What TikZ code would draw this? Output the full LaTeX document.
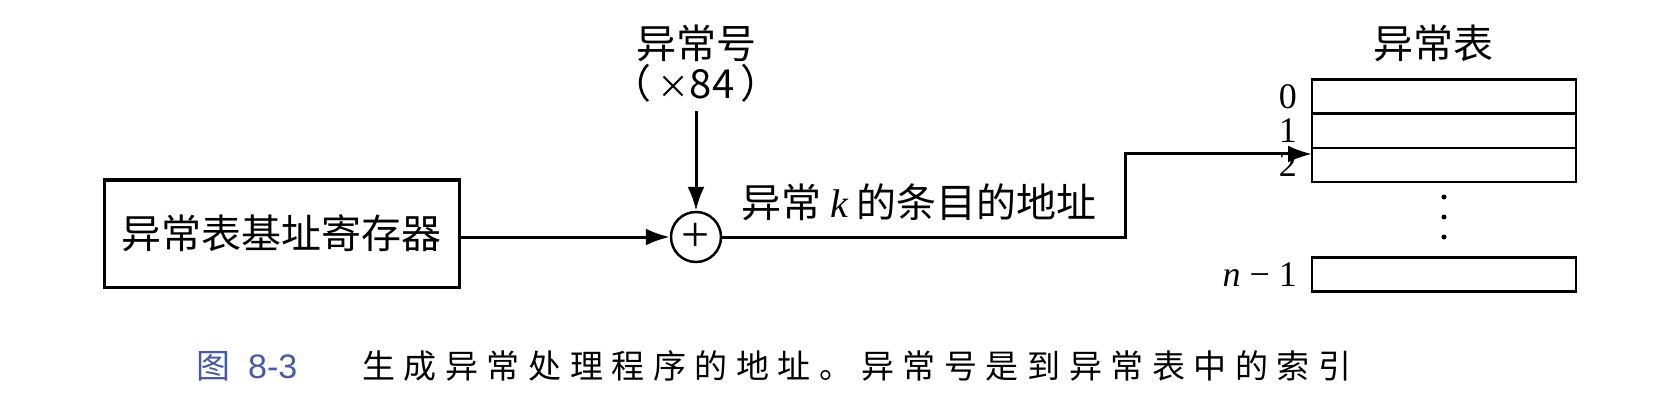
\documentclass[tikz,border=0pt]{standalone}
\usepackage{fontspec}
\setmainfont{Liberation Serif}
\newfontfamily\cjk{Noto Sans CJK SC}
\newfontfamily\capcjk[LetterSpace=26]{Noto Sans CJK SC}
\newfontfamily\capnum{Liberation Sans}
\usetikzlibrary{arrows.meta}
\definecolor{capblue}{RGB}{70,90,165}

\begin{document}
\begin{tikzpicture}[x=1pt, y=-1pt, reg/.style={draw, line width=3pt, minimum width=355pt, minimum height=107pt, inner sep=0pt, font=\cjk\fontsize{40}{48}\selectfont}, adder/.style={draw, circle, line width=2.5pt, minimum size=50pt, inner sep=0pt, font=\fontsize{50}{50}\selectfont}, entry/.style={draw, rectangle, line width=2.5pt, minimum width=264pt, minimum height=34pt, inner sep=0pt, outer sep=0pt}, idx/.style={anchor=east, inner sep=0pt, text height=24pt, text depth=0pt, font=\fontsize{36}{36}\selectfont}, lbl/.style={font=\cjk\fontsize{40}{40}\selectfont, inner sep=0pt}, n/.style={-{Latex[length=24pt, width=17pt]}, line width=3pt}]
            \useasboundingbox (0,0) rectangle (1655,401);
            % nodes
            \node[reg] (base) at (281.5,233.5) {异常表基址寄存器};
            \node[adder] (plus) at (696,237) {+};
            \node[lbl, align=center] (excno) at (696,64) {异常号\\{\cjk （}\,{\fontsize{32}{32}\selectfont×}84\,{\cjk ）}};
            \node[lbl] (addr) at (919,202) {异常 {\rmfamily\itshape k} 的条目的地址};
            % table
            \node[lbl] (title) at (1433,43) {异常表};
            \node[entry] (row0) at (1444,96.5) {};
            \node[entry] (row1) at (1444,131) {};
            \node[entry] (row2) at (1444,165) {};
            \node[entry] (rowN) at (1444,274.5) {};
            \node[idx] (i0) at ([xshift=-15pt]row0.west) {0};
            \node[idx] (i1) at ([xshift=-15pt]row1.west) {1};
            \node[idx] (i2) at ([xshift=-15pt]row2.west) {2};
            \node[idx] (iN) at ([xshift=-15pt]rowN.west) {{\itshape n} − 1};
            \foreach \y in {197,217,237}
                \fill (1444,\y) circle (2.5pt);
            % edges
            \coordinate (turn) at (1125,237);
            \draw[n, shorten <=8pt] (excno) -- (plus);
            \draw[n] (base.east |- plus.west) -- (plus.west);
            \draw[n] (plus.east) -- (turn) |- ([yshift=11pt]row2.west);
            % caption
            \node[anchor=west, inner sep=0pt, text=capblue, font=\fontsize{34}{34}\selectfont] (fignum) at (196,366) {{\cjk 图}\hspace{18pt}{\capnum 8-3}};
            \node[anchor=west, inner sep=0pt, font=\capcjk\fontsize{33}{33}\selectfont] (caption) at (362,366) {生成异常处理程序的地址。异常号是到异常表中的索引};
        \end{tikzpicture}
\end{document}
